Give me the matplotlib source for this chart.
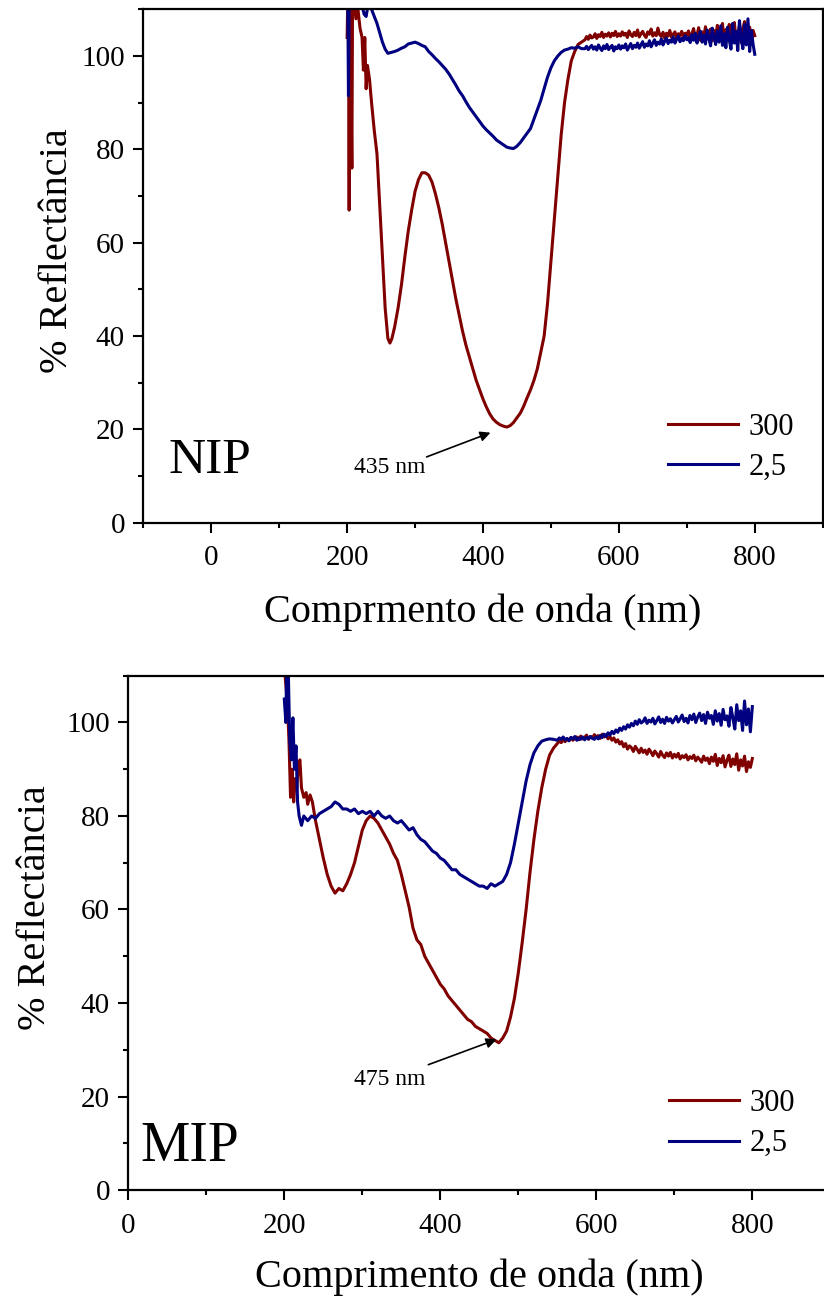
import matplotlib
matplotlib.use("Agg")
import matplotlib.pyplot as plt
import numpy as np
from matplotlib.ticker import MultipleLocator

plt.rcParams['font.family'] = ['Liberation Serif', 'DejaVu Serif']

RED = '#800000'
BLUE = '#000080'

# ---------------- NIP panel data ----------------
nip_red_x = [200, 201, 202, 203, 204, 205, 206, 207, 208, 210, 213, 216, 219, 222, 224, 226, 228, 230,
             233, 236, 240, 244, 248, 252, 256, 260, 263, 266, 270,
             275, 280, 285, 290, 295, 300, 305, 310, 315, 320, 325, 330, 335, 340, 345, 350, 355, 360,
             365, 370, 375, 380, 385, 390, 395, 400, 405, 410, 415, 420, 425, 430, 435, 440, 445, 450,
             455, 460, 465, 470, 475, 480, 485, 490, 495, 500, 505, 510, 515, 520, 525, 530, 535, 540, 545]
nip_red_y = [104, 112, 112, 67, 112, 112, 90, 76, 112, 112, 108, 110, 106, 104, 97, 104, 93, 98,
             95, 90, 84, 79, 68, 57, 46, 39.5, 38.5, 39.5, 42,
             46, 51, 57, 62.5, 67, 71, 73.5, 75, 75, 74.5, 73, 70.5, 67.5, 64, 60, 56, 52, 48,
             44.5, 41, 38, 35.5, 33, 30.5, 28.5, 26.5, 24.8, 23.3, 22.2, 21.5, 21, 20.7, 20.5, 20.8, 21.5, 22.5,
             23.5, 25, 26.8, 28.5, 30.5, 33, 36.5, 40, 47, 56, 65, 74, 83, 90, 95, 99, 101, 102.5, 103]
# 550 -> 800 nm, every 2.5 nm
nip_red_tail = [103.5, 104.2, 103.6, 104.5, 103.9, 104.1, 104.8, 103.8, 104.6, 104.2,
                105.1, 104.0, 104.7, 104.3, 105.0, 104.1, 104.9, 104.4, 105.3, 104.2, 104.8,
                104.3, 105.2, 104.5, 104.9, 104.0, 105.4, 104.6, 104.2, 105.1, 104.4,
                105.6, 104.1, 104.8, 105.3, 104.5, 104.0, 105.2, 104.7, 105.8, 104.3,
                105.0, 104.4, 106.0, 104.6, 104.2, 105.1, 103.8, 104.9, 104.3, 105.5,
                104.0, 104.7, 105.2, 103.9, 104.8, 104.4, 105.3, 104.1, 104.9, 104.5,
                105.4, 103.6, 104.8, 105.9, 103.8, 104.5, 106.1, 103.4, 105.2, 104.0,
                106.3, 103.7, 104.9, 105.8, 103.3, 105.5, 104.2, 106.6, 103.5, 105.0,
                107.0, 103.0, 105.7, 104.1, 106.8, 102.8, 105.3, 107.2, 103.4, 104.6,
                106.5, 102.9, 105.8, 107.4, 103.2, 104.9, 106.2, 103.6, 105.5, 104.4]

nip_blue_x = [200, 201, 202, 203, 205, 210, 215, 220, 225, 228, 232, 236, 240, 244, 248, 252, 256, 260,
              265, 270, 275, 280, 285, 290, 295, 300, 305, 310, 315, 320, 325, 330, 335, 340, 345, 350,
              355, 360, 365, 370, 375, 380, 385, 390, 395, 400, 405, 410, 415, 420, 425, 430, 435, 440,
              445, 450, 455, 460, 465, 470, 475, 480, 485, 490, 495, 500, 505, 510, 515, 520, 525, 530,
              535, 540, 545]
nip_blue_y = [112, 112, 91.5, 112, 112, 112, 112, 112, 109, 108.5, 112, 110, 108.5, 107, 105, 103, 101.5, 100.6,
              100.8, 101, 101.3, 101.7, 102, 102.6, 102.8, 103, 102.7, 102.3, 102, 101, 100.3, 99.5, 98.8, 98,
              97.2, 96.2, 95, 93.8, 92.5, 91.5, 90.2, 89, 88, 87, 86, 85, 84.2, 83.5, 82.8, 82, 81.5, 81, 80.5,
              80.3, 80.2, 80.7, 81.5, 82.5, 83.5, 84.5, 86.5, 88.5, 90.5, 93, 95.5, 97.5, 99, 100, 100.8,
              101.3, 101.5, 101.8, 101.7, 102, 101.6]
nip_blue_tail = [101.6, 102.1, 101.4, 101.9, 102.3, 101.5, 102.0, 101.3, 102.4, 101.7,
                 101.2, 102.2, 101.6, 102.5, 101.4, 101.9, 102.3, 101.1, 102.0, 101.6, 102.4,
                 101.5, 102.2, 101.8, 102.6, 101.3, 102.0, 102.7, 101.6, 102.3, 101.9,
                 102.8, 101.7, 102.4, 103.1, 101.9, 102.6, 102.2, 103.3, 102.0, 102.8,
                 103.5, 102.3, 103.0, 102.6, 103.7, 102.4, 103.2, 103.9, 102.7, 103.4,
                 103.0, 104.1, 102.8, 103.6, 104.3, 103.1, 103.8, 103.3, 104.4, 103.5,
                 104.0, 102.9, 104.6, 103.4, 104.9, 102.8, 104.2, 105.3, 103.0, 104.5,
                 102.6, 105.6, 103.8, 102.2, 106.0, 104.1, 102.5, 105.4, 103.0, 106.5,
                 102.3, 104.8, 101.8, 106.2, 103.5, 101.5, 107.0, 102.8, 105.3, 101.2,
                 107.6, 103.9, 101.6, 106.8, 102.4, 108.0, 101.0, 105.5, 102.6, 100.4]

# ---------------- MIP panel data ----------------
mip_red_x = [200, 202, 204, 206, 208, 210, 212, 214, 216, 218, 220, 222, 225, 228, 230, 233, 236, 240,
             245, 250, 255, 260, 265, 270, 275, 280, 285, 290, 295, 300, 305, 310, 315, 320, 325, 330,
             335, 340, 345, 350, 355, 360, 365, 370, 375, 380, 385, 390, 395, 400, 405, 410, 415, 420,
             425, 430, 435, 440, 445, 450, 455, 460, 465, 470, 475, 480, 485, 490, 495, 500, 505, 510,
             515, 520, 525, 530, 535, 540, 545]
mip_red_y = [112, 108, 104, 96, 84, 90, 83, 88, 86, 91, 92, 86, 84, 85, 82.5, 84.5, 83, 79,
             75, 71, 67.5, 65, 63.5, 64.5, 64, 65.5, 67.5, 70, 73.5, 77, 79, 80, 79.5, 78.5, 77, 75.5,
             74, 72, 70.5, 67.5, 64, 60.5, 56, 53.5, 52.5, 50, 48.5, 47, 45.5, 44, 43, 41.5, 40.5, 39.5,
             38.5, 37.5, 36.5, 36, 35, 34.5, 34, 33.5, 32.5, 32, 31.5, 32.5, 34, 37, 41, 46.5, 53, 60,
             68, 75, 81, 86, 90, 93, 94.5]
mip_red_tail = [95.5, 96.0, 95.7, 96.3, 95.9, 96.5, 96.1, 96.8, 96.2, 96.6,
                96.9, 96.3, 97.1, 96.5, 96.8, 97.3, 96.4, 97.0, 96.7, 97.4, 96.9,
                97.2, 96.6, 97.5, 96.9, 97.3, 96.5, 97.0, 96.2, 96.7, 95.8,
                96.3, 95.4, 95.9, 94.8, 95.5, 94.3, 95.0, 94.6, 93.8, 94.9,
                94.2, 93.5, 94.5, 93.6, 94.1, 93.2, 94.3, 93.7, 92.9, 93.9,
                93.3, 92.6, 93.8, 93.0, 92.5, 93.5, 92.8, 93.6, 92.4, 93.2,
                92.6, 93.4, 92.2, 92.9, 92.5, 93.1, 92.0, 92.7, 92.3, 93.0,
                91.8, 92.6, 92.1, 91.5, 92.8, 91.9, 92.4, 91.2, 92.6, 91.7,
                93.2, 90.8, 92.3, 91.4, 92.9, 90.5, 91.9, 93.0, 90.6, 92.2,
                91.0, 93.3, 89.8, 92.0, 90.7, 92.8, 89.5, 91.6, 90.4, 92.3]

mip_blue_x = [200, 202, 203, 205, 207, 209, 211, 213, 215, 217, 219, 222, 225,
              230, 235, 240, 245, 250, 255, 260, 265, 270, 275, 280, 285, 290, 295, 300, 305, 310,
              315, 320, 325, 330, 335, 340, 345, 350, 355, 360, 365, 370, 375, 380, 385, 390, 395,
              400, 405, 410, 415, 420, 425, 430, 435, 440, 445, 450, 455, 460, 465, 470, 475, 480,
              485, 490, 495, 500, 505, 510, 515, 520, 525, 530, 535, 540, 545]
mip_blue_y = [105, 100, 112, 112, 96, 92, 101, 90, 95, 83, 80, 78, 80,
              79, 80, 79.5, 80.5, 81, 81.5, 82, 83, 82.5, 81.5, 81.5, 81, 81.5, 80.5, 81, 80.5, 81,
              80, 81, 80, 79.5, 80, 79, 78.5, 79, 78, 77, 77.5, 76, 75, 74.5, 73.5, 72.5, 72,
              71, 70.5, 69.5, 68.5, 68.5, 67.5, 67, 66.5, 66, 65.5, 65, 65, 64.5, 65.5, 65, 65.5, 66,
              67.5, 70, 74, 78.5, 83, 87.5, 91, 93.5, 95, 96, 96.3, 96.5, 96.4]
mip_blue_tail = [96.2, 96.7, 96.4, 96.9, 96.3, 96.6, 96.1, 96.8, 96.5, 97.0,
                 96.2, 96.7, 96.4, 96.9, 96.3, 96.8, 96.5, 97.0, 96.6, 96.4, 96.9,
                 96.5, 97.2, 96.8, 97.5, 97.0, 97.8, 97.3, 98.1, 97.6, 98.4,
                 97.9, 98.8, 98.3, 99.1, 98.6, 99.5, 99.0, 99.8, 99.3, 100.3,
                 99.6, 100.6, 99.9, 100.2, 101.0, 99.8, 100.5, 100.1, 100.9, 99.7,
                 100.4, 101.2, 100.0, 100.7, 99.8, 101.1, 100.3, 100.8, 99.9, 100.6,
                 101.3, 100.1, 100.8, 101.6, 100.2, 100.9, 99.9, 101.5, 100.6, 101.8,
                 100.0, 101.2, 102.0, 100.4, 101.7, 99.8, 102.2, 100.9, 101.5, 99.6,
                 102.5, 100.3, 101.9, 99.4, 102.8, 100.6, 101.4, 99.2, 103.2, 101.0,
                 98.6, 103.8, 100.4, 102.5, 98.3, 104.6, 99.5, 102.9, 98.0, 103.4]

legend_labels = ['300', '2,5']
x_major_ticks = [0, 200, 400, 600, 800]


def series(x_head, y_head, y_tail):
    x_tail = np.linspace(550, 800, len(y_tail))
    return list(x_head) + list(x_tail), list(y_head) + list(y_tail)


fig = plt.figure(figsize=(8.24, 12.98), dpi=100)
ax1 = fig.add_axes([0.1739, 0.5973, 0.8245, 0.3954])
ax2 = fig.add_axes([0.1557, 0.0832, 0.852, 0.3962])


def style(ax, xlim, xlabel, xlabelpad, ylabelpad, ylabel_y):
    ax.set_xlim(*xlim)
    ax.set_ylim(0, 110)
    ax.set_xticks(x_major_ticks)
    ax.xaxis.set_minor_locator(MultipleLocator(100))
    ax.yaxis.set_major_locator(MultipleLocator(20))
    ax.yaxis.set_minor_locator(MultipleLocator(10))
    ax.tick_params(which='both', direction='out', width=1.5, labelsize=21, top=False, right=False)
    ax.tick_params(which='major', length=7.2)
    ax.tick_params(which='minor', length=3.6)
    ax.tick_params(axis='x', which='major', pad=9)
    ax.tick_params(axis='y', which='major', pad=6)
    for s in ax.spines.values():
        s.set_linewidth(1.6)
    ax.set_xlabel(xlabel, fontsize=29, labelpad=xlabelpad)
    ax.set_ylabel('% Reflectância', fontsize=29, labelpad=ylabelpad, y=ylabel_y)


LW = 2.2
# NIP
x, y = series(nip_red_x, nip_red_y, nip_red_tail)
ax1.plot(x, y, color=RED, lw=LW, label=legend_labels[0])
x, y = series(nip_blue_x, nip_blue_y, nip_blue_tail)
ax1.plot(x, y, color=BLUE, lw=LW, label=legend_labels[1])
style(ax1, (-100, 900), 'Comprmento de onda (nm)', 16, 4, 0.531)
ax1.text(-63, 10.6, 'NIP', fontsize=37, ha='left', va='baseline')
ax1.annotate('', xy=(411, 19.3), xytext=(317, 14.1),
             arrowprops=dict(arrowstyle='-|>', color='black', lw=1.2, mutation_scale=15,
                             shrinkA=0, shrinkB=0))
ax1.text(263, 11.9, '435 nm', fontsize=17, ha='center', va='center')
ax1.legend(loc='center left', bbox_to_anchor=(0.772, 0.147), frameon=False, fontsize=22,
           handlelength=2.3, handletextpad=0.33, labelspacing=0.37, borderpad=0, borderaxespad=0)

# MIP
x, y = series(mip_red_x, mip_red_y, mip_red_tail)
ax2.plot(x, y, color=RED, lw=LW, label=legend_labels[0])
x, y = series(mip_blue_x, mip_blue_y, mip_blue_tail)
ax2.plot(x, y, color=BLUE, lw=LW, label=legend_labels[1])
style(ax2, (0, 900), 'Comprimento de onda (nm)', 14.5, 9, 0.55)
ax2.text(15, 6.1, 'MIP', fontsize=40, ha='left', va='baseline')
ax2.annotate('', xy=(472, 32.2), xytext=(384.6, 26.8),
             arrowprops=dict(arrowstyle='-|>', color='black', lw=1.2, mutation_scale=15,
                             shrinkA=0, shrinkB=0))
ax2.text(335.5, 23.6, '475 nm', fontsize=17, ha='center', va='center')
ax2.legend(loc='center left', bbox_to_anchor=(0.770, 0.129), frameon=False, fontsize=22,
           handlelength=2.3, handletextpad=0.33, labelspacing=0.37, borderpad=0, borderaxespad=0)

fig.savefig('out.png', dpi=100)
